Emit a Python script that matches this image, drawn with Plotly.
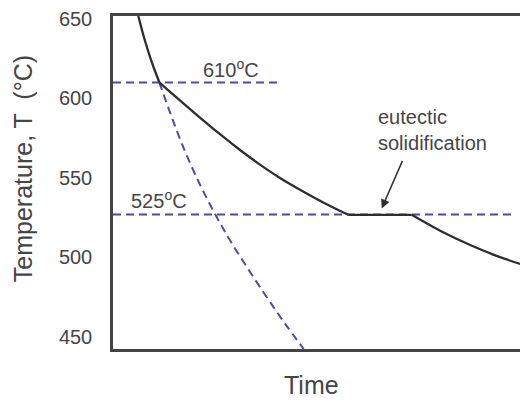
import plotly.graph_objects as go

# Cooling curve (time in arbitrary units, temperature in °C), split into its segments
liquid_t = [5.66, 6.1, 7.23, 8.43, 9.76, 11.16]
liquid_T = [656.2, 651.9, 640.7, 630.1, 619.8, 610.2]

primary_t = [11.16, 14.53, 20.17, 25.78, 30.6, 35.42, 40.24, 45.06, 50.67, 56.7]
primary_T = [610.2, 602.4, 589.7, 577.5, 567.6, 558.4, 550.0, 542.6, 534.6, 526.8]

eutectic_t = [56.7, 71.98]
eutectic_T = [526.8, 526.8]

solid_t = [71.98, 78.96, 86.2, 92.6, 100.0, 102.0]
solid_T = [526.8, 516.6, 507.6, 500.8, 494.3, 492.7]

# Extrapolated (dashed) cooling without solidification
extra_t = [11.16, 13.78, 17.13, 20.67, 24.63, 28.82, 36.17, 41.47, 45.93]
extra_T = [610.2, 590.9, 568.1, 547.4, 527.1, 508.1, 478.4, 458.3, 442.4]

# Reference temperatures
liq_t = [0, 40.65]
liq_T = [610, 610]
eut_t = [0, 96.9]
eut_T = [527, 527]

y_ticks = [450, 500, 550, 600, 650]

FONT = "Liberation Sans, Arial, Helvetica, sans-serif"
BLUE = "#4b4ba8"
INK = "#2e2e2e"
TXT = "#454545"

fig = go.Figure()
dash_style = dict(color=BLUE, width=2, dash="8px,5px")
fig.add_trace(go.Scatter(x=liq_t, y=liq_T, mode="lines", line=dash_style, hoverinfo="skip"))
fig.add_trace(go.Scatter(x=eut_t, y=eut_T, mode="lines", line=dash_style, hoverinfo="skip"))
fig.add_trace(go.Scatter(x=extra_t, y=extra_T, mode="lines", line_shape="spline",
                         line=dash_style, hoverinfo="skip"))

for xs, ys in [(liquid_t, liquid_T), (primary_t, primary_T),
               (eutectic_t, eutectic_T), (solid_t, solid_T)]:
    fig.add_trace(go.Scatter(x=xs, y=ys, mode="lines", line_shape="spline",
                             line=dict(color=INK, width=2.3), hoverinfo="skip"))

fig.add_annotation(x=28.4, y=618.9, text="610<sup>o</sup>C", showarrow=False,
                   xanchor="center", yanchor="middle",
                   font=dict(family=FONT, size=20, color=TXT))
fig.add_annotation(x=11.1, y=536.5, text="525<sup>o</sup>C", showarrow=False,
                   xanchor="center", yanchor="middle",
                   font=dict(family=FONT, size=20, color=TXT))
fig.add_annotation(x=63.4, y=580.1, text="eutectic<br>solidification", showarrow=False,
                   xanchor="left", yanchor="middle", align="left",
                   font=dict(family=FONT, size=20, color=TXT))
fig.add_annotation(x=64.75, y=530.8, ax=69.9, ay=561.7, axref="x", ayref="y",
                   text="", showarrow=True, arrowhead=2, arrowsize=1.2, arrowwidth=1.5,
                   arrowcolor=INK)

fig.add_annotation(xref="paper", yref="paper", x=-0.2128, y=0.543,
                   xanchor="center", yanchor="middle",
                   text="Temperature, T  (°C)", textangle=-90, showarrow=False,
                   font=dict(family=FONT, size=25, color=TXT))
fig.add_annotation(xref="paper", yref="paper", x=0.4704, y=-0.1068,
                   xanchor="center", yanchor="middle",
                   text="Time", showarrow=False,
                   font=dict(family=FONT, size=25, color=TXT))

fig.update_layout(
    width=528, height=401,
    margin=dict(l=105, r=0, t=4, b=60),
    paper_bgcolor="white", plot_bgcolor="white",
    showlegend=False,
    xaxis=dict(range=[0, 101.93], showgrid=False, zeroline=False, showticklabels=False,
               showline=True, mirror=True, linecolor="#444", linewidth=2.5, ticks=""),
    yaxis=dict(range=[442.35, 651.9], showgrid=False, zeroline=False,
               tickvals=y_ticks, ticktext=[str(v) for v in y_ticks],
               tickfont=dict(family=FONT, size=20, color=TXT),
               showline=True, mirror=False, linecolor="#444", linewidth=2.5,
               ticks="", ticklabelstandoff=14, ticklabeloverflow="allow"),
)

fig.write_html("out.html")
